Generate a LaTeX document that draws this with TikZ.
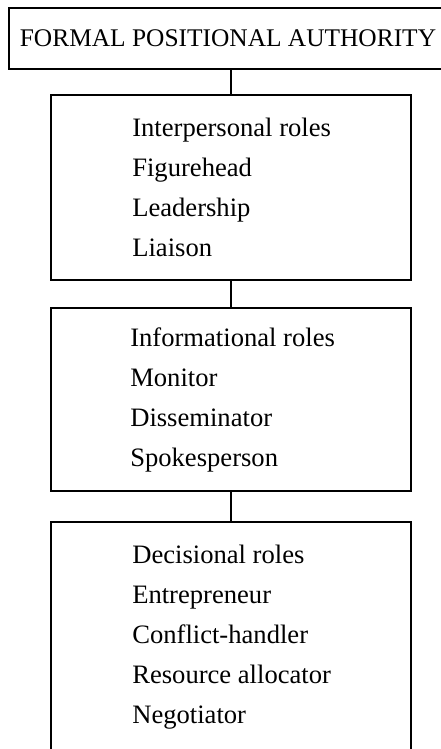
\documentclass[tikz,border=0pt]{standalone}
\usepackage{fontspec}
\setmainfont{Liberation Serif}
\tikzset{
  rolebox/.style={draw, line width=1.8pt, minimum width=360pt, inner sep=0pt},
  roletext/.style={anchor=west, align=left, inner sep=0pt, font=\fontsize{26.6}{40}\selectfont},
  link/.style={line width=1.8pt},
}
\begin{document}
\begin{tikzpicture}[x=1pt,y=1pt]
    \useasboundingbox (0,0) rectangle (441,-749);
    \clip (0,0) rectangle (441,-749);
    \node [rolebox, minimum width=438pt, minimum height=61pt, font=\fontsize{25.4}{30}\selectfont] (auth) at (228,-38.5) {FORMAL POSITIONAL AUTHORITY};
    \node [rolebox, minimum height=185pt] (inter) at (231,-187.5) {};
    \node [rolebox, minimum height=183pt] (info) at (231,-399.5) {};
    \node [rolebox, minimum height=230pt] (deci) at (231,-637) {};
    \node [roletext] (intertext) at ([xshift=82pt]inter.west) {Interpersonal roles\\Figurehead\\Leadership\\Liaison};
    \node [roletext] (infotext) at ([xshift=80pt]info.west) {Informational roles\\Monitor\\Disseminator\\Spokesperson};
    \node [roletext] (decitext) at ([xshift=82pt]deci.west) {Decisional roles\\Entrepreneur\\Conflict-handler\\Resource allocator\\Negotiator};
    \draw [link] (inter.north) -- (inter.north |- auth.south);
    \draw [link] (info.north) -- (inter.south);
    \draw [link] (deci.north) -- (info.south);
\end{tikzpicture}
\end{document}
